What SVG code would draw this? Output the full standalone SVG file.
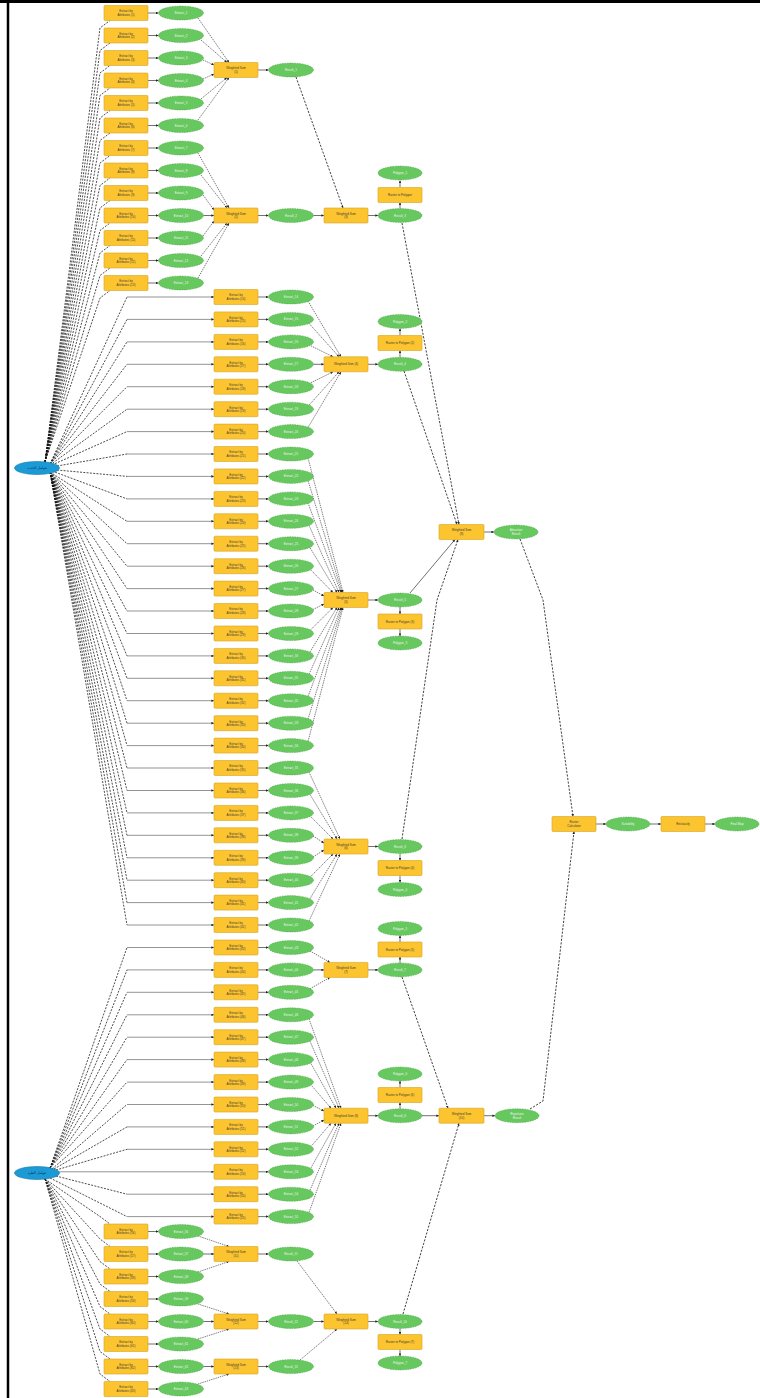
<svg xmlns="http://www.w3.org/2000/svg" width="760" height="1398" viewBox="0 0 760 1398">
<defs>
<marker id="ar" viewBox="0 0 6 6" refX="6" refY="3" markerWidth="2.6" markerHeight="2.6" markerUnits="userSpaceOnUse" orient="auto"><path d="M0 0L6 3L0 6z" fill="#222"/></marker>
<style>
.t{fill:#fcc530;stroke:#d3a21e;stroke-width:.6}
.d{fill:#66c85e;stroke:#4a9c45;stroke-width:.5;stroke-dasharray:1.5 1}
.b{fill:#1c9ad6;stroke:#1377a8;stroke-width:.6}
.tx{font-family:"Liberation Sans",Arial,sans-serif;font-size:3px;fill:#3a3a3a;text-anchor:middle}
.ex{font-family:"Liberation Sans",Arial,sans-serif;font-size:3px;fill:#eef6ee;text-anchor:middle}
.bx{font-family:"DejaVu Sans","Liberation Sans",sans-serif;font-size:3.5px;fill:#0b2a4a;text-anchor:middle}
.c{fill:none;stroke:#111;stroke-width:.75;stroke-dasharray:2 1.3}
.c2{fill:none;stroke:#222;stroke-width:.6;stroke-dasharray:1.4 .9;marker-end:url(#ar)}
.h{fill:none;stroke:#666;stroke-width:.7;marker-end:url(#ar)}
.s{fill:none;stroke:#333;stroke-width:.7;marker-end:url(#ar)}
.L{fill:none;stroke:#111;stroke-width:.8;stroke-dasharray:2.2 1.4;marker-end:url(#ar)}
</style>
</defs>
<rect width="760" height="1398" fill="#fff"/>
<g id="frame"><line x1="8" y1="0" x2="8" y2="1398" stroke="#000" stroke-width="2.5"/><line x1="0" y1="1.5" x2="760" y2="1.5" stroke="#000" stroke-width="3"/></g>
<g id="connectors">
<!-- top blue to top group -->
<path class="c" d="M45 462L100 28L110 20.5"/>
<path class="c" d="M45 462L100 50.5L110 43"/>
<path class="c" d="M45 462L100 73L110 65.5"/>
<path class="c" d="M45 462L100 95.5L110 88"/>
<path class="c" d="M45 462L100 118L110 110.5"/>
<path class="c" d="M45 462L100 140.5L110 133"/>
<path class="c" d="M45 462L100 163L110 155.5"/>
<path class="c" d="M45 462L100 185.5L110 178"/>
<path class="c" d="M45 462L100 208L110 200.5"/>
<path class="c" d="M45 462L100 230.5L110 223"/>
<path class="c" d="M45 462L100 253L110 245.5"/>
<path class="c" d="M45 462L100 275.5L110 268"/>
<path class="c" d="M45 462L100 298L110 290.5"/>
<!-- top blue to middle rows 0-28 -->
<path class="c" d="M50 464L127 297"/><path class="h" d="M127 297H214"/>
<path class="c" d="M50 464L127 319.4"/><path class="h" d="M127 319.4H214"/>
<path class="c" d="M50 464L127 341.9"/><path class="h" d="M127 341.9H214"/>
<path class="c" d="M50 464L127 364.3"/><path class="h" d="M127 364.3H214"/>
<path class="c" d="M50 464L127 386.7"/><path class="h" d="M127 386.7H214"/>
<path class="c" d="M50 465L127 409.2"/><path class="h" d="M127 409.2H214"/>
<path class="c" d="M52 465L127 431.6"/><path class="h" d="M127 431.6H214"/>
<path class="c" d="M57 466L127 454"/><path class="h" d="M127 454H214"/>
<path class="c" d="M57 470L127 476.4"/><path class="h" d="M127 476.4H214"/>
<path class="c" d="M52 471L127 498.9"/><path class="h" d="M127 498.9H214"/>
<path class="c" d="M50 472L127 521.3"/><path class="h" d="M127 521.3H214"/>
<path class="c" d="M50 472L127 543.7"/><path class="h" d="M127 543.7H214"/>
<path class="c" d="M50 472L127 566.2"/><path class="h" d="M127 566.2H214"/>
<path class="c" d="M50 472L127 588.6"/><path class="h" d="M127 588.6H214"/>
<path class="c" d="M50 472L127 611"/><path class="h" d="M127 611H214"/>
<path class="c" d="M50 472L127 633.5"/><path class="h" d="M127 633.5H214"/>
<path class="c" d="M50 472L127 655.9"/><path class="h" d="M127 655.9H214"/>
<path class="c" d="M50 472L127 678.3"/><path class="h" d="M127 678.3H214"/>
<path class="c" d="M50 472L127 700.7"/><path class="h" d="M127 700.7H214"/>
<path class="c" d="M50 472L127 723.2"/><path class="h" d="M127 723.2H214"/>
<path class="c" d="M50 472L127 745.6"/><path class="h" d="M127 745.6H214"/>
<path class="c" d="M50 472L127 768"/><path class="h" d="M127 768H214"/>
<path class="c" d="M50 472L127 790.5"/><path class="h" d="M127 790.5H214"/>
<path class="c" d="M50 472L127 812.9"/><path class="h" d="M127 812.9H214"/>
<path class="c" d="M50 472L127 835.3"/><path class="h" d="M127 835.3H214"/>
<path class="c" d="M50 472L127 857.8"/><path class="h" d="M127 857.8H214"/>
<path class="c" d="M50 472L127 880.2"/><path class="h" d="M127 880.2H214"/>
<path class="c" d="M50 472L127 902.6"/><path class="h" d="M127 902.6H214"/>
<path class="c" d="M50 472L127 925"/><path class="h" d="M127 925H214"/>
<!-- bottom blue to middle rows 29-41 -->
<path class="c" d="M50 1168L127 947.5"/><path class="h" d="M127 947.5H214"/>
<path class="c" d="M50 1168L127 969.9"/><path class="h" d="M127 969.9H214"/>
<path class="c" d="M50 1168L127 992.3"/><path class="h" d="M127 992.3H214"/>
<path class="c" d="M50 1168L127 1014.8"/><path class="h" d="M127 1014.8H214"/>
<path class="c" d="M50 1168L127 1037.2"/><path class="h" d="M127 1037.2H214"/>
<path class="c" d="M50 1168L127 1059.6"/><path class="h" d="M127 1059.6H214"/>
<path class="c" d="M50 1168L127 1082.1"/><path class="h" d="M127 1082.1H214"/>
<path class="c" d="M52 1169L127 1104.5"/><path class="h" d="M127 1104.5H214"/>
<path class="c" d="M54 1169L127 1126.9"/><path class="h" d="M127 1126.9H214"/>
<path class="c" d="M56 1170L127 1149.3"/><path class="h" d="M127 1149.3H214"/>
<path class="h" d="M59 1171.8H214"/>
<path class="c" d="M56 1176L127 1194.2"/><path class="h" d="M127 1194.2H214"/>
<path class="c" d="M50 1178L127 1216.6"/><path class="h" d="M127 1216.6H214"/>
<!-- bottom blue to bottom group -->
<path class="c" d="M45 1179L100 1216.5L110 1224"/>
<path class="c" d="M45 1179L100 1239L110 1246.5"/>
<path class="c" d="M45 1179L100 1261.5L110 1269"/>
<path class="c" d="M45 1179L100 1284L110 1291.5"/>
<path class="c" d="M45 1179L100 1306.5L110 1314"/>
<path class="c" d="M45 1179L100 1329L110 1336.5"/>
<path class="c" d="M45 1179L100 1351.5L110 1359"/>
<path class="c" d="M45 1179L100 1374L110 1381.5"/>
<!-- top group rect->ellipse -->
<path class="s" d="M148 13H158.5"/><path class="s" d="M148 35.5H158.5"/><path class="s" d="M148 58H158.5"/><path class="s" d="M148 80.5H158.5"/><path class="s" d="M148 103H158.5"/><path class="s" d="M148 125.5H158.5"/><path class="s" d="M148 148H158.5"/><path class="s" d="M148 170.5H158.5"/><path class="s" d="M148 193H158.5"/><path class="s" d="M148 215.5H158.5"/><path class="s" d="M148 238H158.5"/><path class="s" d="M148 260.5H158.5"/><path class="s" d="M148 283H158.5"/>
<!-- top group ellipse->merge -->
<path class="c2" d="M198 18L229 62.5"/><path class="c2" d="M201 40L227 62.5"/><path class="c2" d="M203 60L214 65"/><path class="c2" d="M203 79L214 74"/><path class="c2" d="M201 99L227 77.5"/><path class="c2" d="M198 120L229 77.5"/>
<path class="c2" d="M198 153L229 208"/><path class="c2" d="M201 175L227 208"/><path class="c2" d="M203 195L214 210"/><path class="s" d="M203.5 215.5H214"/><path class="c2" d="M203 236L214 221"/><path class="c2" d="M201 256L227 223"/><path class="c2" d="M198 278L229 223"/>
<path class="s" d="M258 70H268.5"/><path class="s" d="M258 215.5H268.5"/>
<path class="L" d="M296 77L343 208"/><path class="s" d="M313.5 215.5H324"/>
<path class="s" d="M368 215.5H378"/><path class="s" d="M400 208.5V202.5"/><path class="s" d="M400 187.5V180.5"/>
<!-- middle rect->ellipse -->
<path class="s" d="M258 297H268.5"/><path class="s" d="M258 319.4H268.5"/><path class="s" d="M258 341.9H268.5"/><path class="s" d="M258 364.3H268.5"/><path class="s" d="M258 386.7H268.5"/><path class="s" d="M258 409.2H268.5"/><path class="s" d="M258 431.6H268.5"/><path class="s" d="M258 454H268.5"/><path class="s" d="M258 476.4H268.5"/><path class="s" d="M258 498.9H268.5"/><path class="s" d="M258 521.3H268.5"/><path class="s" d="M258 543.7H268.5"/><path class="s" d="M258 566.2H268.5"/><path class="s" d="M258 588.6H268.5"/><path class="s" d="M258 611H268.5"/><path class="s" d="M258 633.5H268.5"/><path class="s" d="M258 655.9H268.5"/><path class="s" d="M258 678.3H268.5"/><path class="s" d="M258 700.7H268.5"/><path class="s" d="M258 723.2H268.5"/><path class="s" d="M258 745.6H268.5"/><path class="s" d="M258 768H268.5"/><path class="s" d="M258 790.5H268.5"/><path class="s" d="M258 812.9H268.5"/><path class="s" d="M258 835.3H268.5"/><path class="s" d="M258 857.8H268.5"/><path class="s" d="M258 880.2H268.5"/><path class="s" d="M258 902.6H268.5"/><path class="s" d="M258 925H268.5"/><path class="s" d="M258 947.5H268.5"/><path class="s" d="M258 969.9H268.5"/><path class="s" d="M258 992.3H268.5"/><path class="s" d="M258 1014.8H268.5"/><path class="s" d="M258 1037.2H268.5"/><path class="s" d="M258 1059.6H268.5"/><path class="s" d="M258 1082.1H268.5"/><path class="s" d="M258 1104.5H268.5"/><path class="s" d="M258 1126.9H268.5"/><path class="s" d="M258 1149.3H268.5"/><path class="s" d="M258 1171.8H268.5"/><path class="s" d="M258 1194.2H268.5"/><path class="s" d="M258 1216.6H268.5"/>
<!-- middle ellipse->tools -->
<path class="c2" d="M308 301L341 356.8"/><path class="c2" d="M309 323.4L339 356.8"/><path class="c2" d="M311 345.9L333 356.8"/><path class="s" d="M313.5 364.3H324"/><path class="c2" d="M311 382.7L333 371.8"/><path class="c2" d="M309 405.2L339 371.8"/><path class="c2" d="M308 427.6L341 371.8"/>
<path class="c2" d="M308 458L343 592.5"/><path class="c2" d="M308 480.4L342 592.5"/><path class="c2" d="M308 502.9L341 592.5"/><path class="c2" d="M309 525.3L339 592.5"/><path class="c2" d="M310 547.7L337 592.5"/><path class="c2" d="M311 570.2L333 592.5"/><path class="c2" d="M313 590L324 596"/><path class="c2" d="M313 609.5L324 604"/><path class="c2" d="M311 629.5L333 607.5"/><path class="c2" d="M310 651.9L337 607.5"/><path class="c2" d="M309 674.3L339 607.5"/><path class="c2" d="M308 696.7L341 607.5"/><path class="c2" d="M308 719.2L342 607.5"/><path class="c2" d="M308 741.6L343 607.5"/>
<path class="c2" d="M309 772L340 839"/><path class="c2" d="M310 794.5L337 839"/><path class="c2" d="M311 816.9L333 839"/><path class="c2" d="M313 836L324 843"/><path class="c2" d="M313 857L324 850"/><path class="c2" d="M311 876.2L333 854"/><path class="c2" d="M310 898.6L337 854"/><path class="c2" d="M309 921L340 854"/>
<path class="c2" d="M310 951L330 962.4"/><path class="s" d="M313.5 969.9H324"/><path class="c2" d="M310 988.8L330 977.4"/>
<path class="c2" d="M309 1018.8L341 1108.2"/><path class="c2" d="M310 1041.2L339 1108.2"/><path class="c2" d="M311 1063.6L336 1108.2"/><path class="c2" d="M312 1086.1L331 1108.2"/><path class="c2" d="M313 1105.5L324 1111"/><path class="c2" d="M313 1126L324 1120"/><path class="c2" d="M312 1145.3L331 1123.2"/><path class="c2" d="M311 1167.8L336 1123.2"/><path class="c2" d="M310 1190.2L339 1123.2"/><path class="c2" d="M309 1212.6L341 1123.2"/>
<!-- middle tool outputs -->
<path class="s" d="M368 364.3H378"/><path class="s" d="M400 357.3V350.5"/><path class="s" d="M400 335.5V328.5"/>
<path class="s" d="M368 600H378"/><path class="s" d="M400 607V614"/><path class="s" d="M400 629V636"/>
<path class="s" d="M368 846.5H378"/><path class="s" d="M400 853.5V860.5"/><path class="s" d="M400 875.5V882.5"/>
<path class="s" d="M368 969.9H378"/><path class="s" d="M400 963V957"/><path class="s" d="M400 942V935.5"/>
<path class="s" d="M368 1115.7H378"/><path class="s" d="M400 1108.7V1102.5"/><path class="s" d="M400 1087.5V1081"/>
<!-- bottom group -->
<path class="s" d="M148 1231.5H158.5"/><path class="s" d="M148 1254H158.5"/><path class="s" d="M148 1276.5H158.5"/><path class="s" d="M148 1299H158.5"/><path class="s" d="M148 1321.5H158.5"/><path class="s" d="M148 1344H158.5"/><path class="s" d="M148 1366.5H158.5"/><path class="s" d="M148 1389H158.5"/>
<path class="c2" d="M198 1236L229 1246.5"/><path class="s" d="M203.5 1254H214"/><path class="c2" d="M198 1272L229 1261.5"/>
<path class="c2" d="M198 1304L229 1314"/><path class="s" d="M203.5 1321.5H214"/><path class="c2" d="M198 1339L229 1329"/>
<path class="s" d="M203.5 1366.5H214"/><path class="c2" d="M198 1384L229 1374"/>
<path class="s" d="M258 1254H268.5"/><path class="s" d="M258 1321.5H268.5"/><path class="s" d="M258 1366.5H268.5"/>
<path class="c2" d="M297 1261L337 1314"/><path class="s" d="M313.5 1321.5H324"/><path class="c2" d="M300 1360L337 1329"/>
<path class="s" d="M368 1321.5H378"/><path class="s" d="M400 1328.5V1334.5"/><path class="s" d="M400 1349.5V1356"/>
<!-- long links -->
<path class="L" d="M402 223L459 524.5"/>
<path class="L" d="M404 371L457 524.5"/>
<path class="s" d="M410 593L455 539.5"/>
<path class="L" d="M402 839L437 600L458 539.5"/>
<path class="s" d="M484 532H494"/>
<path class="L" d="M520 539L543 600L573 816.5"/>
<path class="L" d="M402 977L448 1108.2"/>
<path class="s" d="M422 1115.7H439"/>
<path class="L" d="M403 1314L459 1123.2"/>
<path class="s" d="M484 1115.7H495"/>
<path class="L" d="M530 1109L543 1101L574 831.5"/>
<path class="s" d="M596 824H606"/><path class="s" d="M650 824H661"/><path class="s" d="M705 824H715"/>
</g>
<g id="nodes">
<g id="blue1"><ellipse class="b" cx="37" cy="468" rx="22.5" ry="6.5"/><text class="bx" x="37" y="469.2">عوامل الجذب</text></g>
<g id="blue2"><ellipse class="b" cx="37" cy="1173" rx="22.5" ry="6.5"/><text class="bx" x="37" y="1174.2">عوامل الطرد</text></g>
<!-- top group -->
<g id="a0"><rect class="t" x="104" y="5.5" width="44" height="15" rx="1"/><text class="tx" x="126" y="12.4">Extract by<tspan x="126" dy="3.4">Attributes (1)</tspan></text></g>
<g id="a1"><rect class="t" x="104" y="28" width="44" height="15" rx="1"/><text class="tx" x="126" y="34.9">Extract by<tspan x="126" dy="3.4">Attributes (2)</tspan></text></g>
<g id="a2"><rect class="t" x="104" y="50.5" width="44" height="15" rx="1"/><text class="tx" x="126" y="57.4">Extract by<tspan x="126" dy="3.4">Attributes (3)</tspan></text></g>
<g id="a3"><rect class="t" x="104" y="73" width="44" height="15" rx="1"/><text class="tx" x="126" y="79.9">Extract by<tspan x="126" dy="3.4">Attributes (4)</tspan></text></g>
<g id="a4"><rect class="t" x="104" y="95.5" width="44" height="15" rx="1"/><text class="tx" x="126" y="102.4">Extract by<tspan x="126" dy="3.4">Attributes (5)</tspan></text></g>
<g id="a5"><rect class="t" x="104" y="118" width="44" height="15" rx="1"/><text class="tx" x="126" y="124.9">Extract by<tspan x="126" dy="3.4">Attributes (6)</tspan></text></g>
<g id="a6"><rect class="t" x="104" y="140.5" width="44" height="15" rx="1"/><text class="tx" x="126" y="147.4">Extract by<tspan x="126" dy="3.4">Attributes (7)</tspan></text></g>
<g id="a7"><rect class="t" x="104" y="163" width="44" height="15" rx="1"/><text class="tx" x="126" y="169.9">Extract by<tspan x="126" dy="3.4">Attributes (8)</tspan></text></g>
<g id="a8"><rect class="t" x="104" y="185.5" width="44" height="15" rx="1"/><text class="tx" x="126" y="192.4">Extract by<tspan x="126" dy="3.4">Attributes (9)</tspan></text></g>
<g id="a9"><rect class="t" x="104" y="208" width="44" height="15" rx="1"/><text class="tx" x="126" y="214.9">Extract by<tspan x="126" dy="3.4">Attributes (10)</tspan></text></g>
<g id="a10"><rect class="t" x="104" y="230.5" width="44" height="15" rx="1"/><text class="tx" x="126" y="237.4">Extract by<tspan x="126" dy="3.4">Attributes (11)</tspan></text></g>
<g id="a11"><rect class="t" x="104" y="253" width="44" height="15" rx="1"/><text class="tx" x="126" y="259.9">Extract by<tspan x="126" dy="3.4">Attributes (12)</tspan></text></g>
<g id="a12"><rect class="t" x="104" y="275.5" width="44" height="15" rx="1"/><text class="tx" x="126" y="282.4">Extract by<tspan x="126" dy="3.4">Attributes (13)</tspan></text></g>
<g id="e0"><ellipse class="d" cx="181" cy="13" rx="22.5" ry="7"/><text class="ex" x="181" y="14">Extract_1</text></g>
<g id="e1"><ellipse class="d" cx="181" cy="35.5" rx="22.5" ry="7"/><text class="ex" x="181" y="36.5">Extract_2</text></g>
<g id="e2"><ellipse class="d" cx="181" cy="58" rx="22.5" ry="7"/><text class="ex" x="181" y="59">Extract_3</text></g>
<g id="e3"><ellipse class="d" cx="181" cy="80.5" rx="22.5" ry="7"/><text class="ex" x="181" y="81.5">Extract_4</text></g>
<g id="e4"><ellipse class="d" cx="181" cy="103" rx="22.5" ry="7"/><text class="ex" x="181" y="104">Extract_5</text></g>
<g id="e5"><ellipse class="d" cx="181" cy="125.5" rx="22.5" ry="7"/><text class="ex" x="181" y="126.5">Extract_6</text></g>
<g id="e6"><ellipse class="d" cx="181" cy="148" rx="22.5" ry="7"/><text class="ex" x="181" y="149">Extract_7</text></g>
<g id="e7"><ellipse class="d" cx="181" cy="170.5" rx="22.5" ry="7"/><text class="ex" x="181" y="171.5">Extract_8</text></g>
<g id="e8"><ellipse class="d" cx="181" cy="193" rx="22.5" ry="7"/><text class="ex" x="181" y="194">Extract_9</text></g>
<g id="e9"><ellipse class="d" cx="181" cy="215.5" rx="22.5" ry="7"/><text class="ex" x="181" y="216.5">Extract_10</text></g>
<g id="e10"><ellipse class="d" cx="181" cy="238" rx="22.5" ry="7"/><text class="ex" x="181" y="239">Extract_11</text></g>
<g id="e11"><ellipse class="d" cx="181" cy="260.5" rx="22.5" ry="7"/><text class="ex" x="181" y="261.5">Extract_12</text></g>
<g id="e12"><ellipse class="d" cx="181" cy="283" rx="22.5" ry="7"/><text class="ex" x="181" y="284">Extract_13</text></g>
<g id="tm1"><rect class="t" x="214" y="62.5" width="44" height="15" rx="1"/><text class="tx" x="236" y="69.4">Weighted Sum<tspan x="236" dy="3.4">(1)</tspan></text></g>
<g id="om1"><ellipse class="d" cx="291" cy="70" rx="22.5" ry="7"/><text class="ex" x="291" y="71">Result_1</text></g>
<g id="tm2"><rect class="t" x="214" y="208" width="44" height="15" rx="1"/><text class="tx" x="236" y="214.9">Weighted Sum<tspan x="236" dy="3.4">(2)</tspan></text></g>
<g id="om2"><ellipse class="d" cx="291" cy="215.5" rx="22.5" ry="7"/><text class="ex" x="291" y="216.5">Result_2</text></g>
<g id="tm3"><rect class="t" x="324" y="208" width="44" height="15" rx="1"/><text class="tx" x="346" y="214.9">Weighted Sum<tspan x="346" dy="3.4">(3)</tspan></text></g>
<g id="om3"><ellipse class="d" cx="400" cy="215.5" rx="22" ry="7"/><text class="ex" x="400" y="216.5">Result_3</text></g>
<g id="rm3"><rect class="t" x="378" y="187.5" width="44" height="15" rx="1"/><text class="tx" x="400" y="196">Raster to Polygon</text></g>
<g id="pm3"><ellipse class="d" cx="400" cy="173" rx="22" ry="7"/><text class="ex" x="400" y="174">Polygon_1</text></g>
<!-- middle group rects -->
<g id="m0"><rect class="t" x="214" y="289.5" width="44" height="15" rx="1"/><text class="tx" x="236" y="296.4">Extract by<tspan x="236" dy="3.4">Attributes (14)</tspan></text></g>
<g id="m1"><rect class="t" x="214" y="311.9" width="44" height="15" rx="1"/><text class="tx" x="236" y="318.8">Extract by<tspan x="236" dy="3.4">Attributes (15)</tspan></text></g>
<g id="m2"><rect class="t" x="214" y="334.4" width="44" height="15" rx="1"/><text class="tx" x="236" y="341.3">Extract by<tspan x="236" dy="3.4">Attributes (16)</tspan></text></g>
<g id="m3"><rect class="t" x="214" y="356.8" width="44" height="15" rx="1"/><text class="tx" x="236" y="363.7">Extract by<tspan x="236" dy="3.4">Attributes (17)</tspan></text></g>
<g id="m4"><rect class="t" x="214" y="379.2" width="44" height="15" rx="1"/><text class="tx" x="236" y="386.1">Extract by<tspan x="236" dy="3.4">Attributes (18)</tspan></text></g>
<g id="m5"><rect class="t" x="214" y="401.7" width="44" height="15" rx="1"/><text class="tx" x="236" y="408.6">Extract by<tspan x="236" dy="3.4">Attributes (19)</tspan></text></g>
<g id="m6"><rect class="t" x="214" y="424.1" width="44" height="15" rx="1"/><text class="tx" x="236" y="431">Extract by<tspan x="236" dy="3.4">Attributes (20)</tspan></text></g>
<g id="m7"><rect class="t" x="214" y="446.5" width="44" height="15" rx="1"/><text class="tx" x="236" y="453.4">Extract by<tspan x="236" dy="3.4">Attributes (21)</tspan></text></g>
<g id="m8"><rect class="t" x="214" y="468.9" width="44" height="15" rx="1"/><text class="tx" x="236" y="475.8">Extract by<tspan x="236" dy="3.4">Attributes (22)</tspan></text></g>
<g id="m9"><rect class="t" x="214" y="491.4" width="44" height="15" rx="1"/><text class="tx" x="236" y="498.3">Extract by<tspan x="236" dy="3.4">Attributes (23)</tspan></text></g>
<g id="m10"><rect class="t" x="214" y="513.8" width="44" height="15" rx="1"/><text class="tx" x="236" y="520.7">Extract by<tspan x="236" dy="3.4">Attributes (24)</tspan></text></g>
<g id="m11"><rect class="t" x="214" y="536.2" width="44" height="15" rx="1"/><text class="tx" x="236" y="543.1">Extract by<tspan x="236" dy="3.4">Attributes (25)</tspan></text></g>
<g id="m12"><rect class="t" x="214" y="558.7" width="44" height="15" rx="1"/><text class="tx" x="236" y="565.6">Extract by<tspan x="236" dy="3.4">Attributes (26)</tspan></text></g>
<g id="m13"><rect class="t" x="214" y="581.1" width="44" height="15" rx="1"/><text class="tx" x="236" y="588">Extract by<tspan x="236" dy="3.4">Attributes (27)</tspan></text></g>
<g id="m14"><rect class="t" x="214" y="603.5" width="44" height="15" rx="1"/><text class="tx" x="236" y="610.4">Extract by<tspan x="236" dy="3.4">Attributes (28)</tspan></text></g>
<g id="m15"><rect class="t" x="214" y="626" width="44" height="15" rx="1"/><text class="tx" x="236" y="632.9">Extract by<tspan x="236" dy="3.4">Attributes (29)</tspan></text></g>
<g id="m16"><rect class="t" x="214" y="648.4" width="44" height="15" rx="1"/><text class="tx" x="236" y="655.3">Extract by<tspan x="236" dy="3.4">Attributes (30)</tspan></text></g>
<g id="m17"><rect class="t" x="214" y="670.8" width="44" height="15" rx="1"/><text class="tx" x="236" y="677.7">Extract by<tspan x="236" dy="3.4">Attributes (31)</tspan></text></g>
<g id="m18"><rect class="t" x="214" y="693.2" width="44" height="15" rx="1"/><text class="tx" x="236" y="700.1">Extract by<tspan x="236" dy="3.4">Attributes (32)</tspan></text></g>
<g id="m19"><rect class="t" x="214" y="715.7" width="44" height="15" rx="1"/><text class="tx" x="236" y="722.6">Extract by<tspan x="236" dy="3.4">Attributes (33)</tspan></text></g>
<g id="m20"><rect class="t" x="214" y="738.1" width="44" height="15" rx="1"/><text class="tx" x="236" y="745">Extract by<tspan x="236" dy="3.4">Attributes (34)</tspan></text></g>
<g id="m21"><rect class="t" x="214" y="760.5" width="44" height="15" rx="1"/><text class="tx" x="236" y="767.4">Extract by<tspan x="236" dy="3.4">Attributes (35)</tspan></text></g>
<g id="m22"><rect class="t" x="214" y="783" width="44" height="15" rx="1"/><text class="tx" x="236" y="789.9">Extract by<tspan x="236" dy="3.4">Attributes (36)</tspan></text></g>
<g id="m23"><rect class="t" x="214" y="805.4" width="44" height="15" rx="1"/><text class="tx" x="236" y="812.3">Extract by<tspan x="236" dy="3.4">Attributes (37)</tspan></text></g>
<g id="m24"><rect class="t" x="214" y="827.8" width="44" height="15" rx="1"/><text class="tx" x="236" y="834.7">Extract by<tspan x="236" dy="3.4">Attributes (38)</tspan></text></g>
<g id="m25"><rect class="t" x="214" y="850.3" width="44" height="15" rx="1"/><text class="tx" x="236" y="857.2">Extract by<tspan x="236" dy="3.4">Attributes (39)</tspan></text></g>
<g id="m26"><rect class="t" x="214" y="872.7" width="44" height="15" rx="1"/><text class="tx" x="236" y="879.6">Extract by<tspan x="236" dy="3.4">Attributes (40)</tspan></text></g>
<g id="m27"><rect class="t" x="214" y="895.1" width="44" height="15" rx="1"/><text class="tx" x="236" y="902">Extract by<tspan x="236" dy="3.4">Attributes (41)</tspan></text></g>
<g id="m28"><rect class="t" x="214" y="917.5" width="44" height="15" rx="1"/><text class="tx" x="236" y="924.4">Extract by<tspan x="236" dy="3.4">Attributes (42)</tspan></text></g>
<g id="m29"><rect class="t" x="214" y="940" width="44" height="15" rx="1"/><text class="tx" x="236" y="946.9">Extract by<tspan x="236" dy="3.4">Attributes (43)</tspan></text></g>
<g id="m30"><rect class="t" x="214" y="962.4" width="44" height="15" rx="1"/><text class="tx" x="236" y="969.3">Extract by<tspan x="236" dy="3.4">Attributes (44)</tspan></text></g>
<g id="m31"><rect class="t" x="214" y="984.8" width="44" height="15" rx="1"/><text class="tx" x="236" y="991.7">Extract by<tspan x="236" dy="3.4">Attributes (45)</tspan></text></g>
<g id="m32"><rect class="t" x="214" y="1007.3" width="44" height="15" rx="1"/><text class="tx" x="236" y="1014.2">Extract by<tspan x="236" dy="3.4">Attributes (46)</tspan></text></g>
<g id="m33"><rect class="t" x="214" y="1029.7" width="44" height="15" rx="1"/><text class="tx" x="236" y="1036.6">Extract by<tspan x="236" dy="3.4">Attributes (47)</tspan></text></g>
<g id="m34"><rect class="t" x="214" y="1052.1" width="44" height="15" rx="1"/><text class="tx" x="236" y="1059">Extract by<tspan x="236" dy="3.4">Attributes (48)</tspan></text></g>
<g id="m35"><rect class="t" x="214" y="1074.6" width="44" height="15" rx="1"/><text class="tx" x="236" y="1081.5">Extract by<tspan x="236" dy="3.4">Attributes (49)</tspan></text></g>
<g id="m36"><rect class="t" x="214" y="1097" width="44" height="15" rx="1"/><text class="tx" x="236" y="1103.9">Extract by<tspan x="236" dy="3.4">Attributes (50)</tspan></text></g>
<g id="m37"><rect class="t" x="214" y="1119.4" width="44" height="15" rx="1"/><text class="tx" x="236" y="1126.3">Extract by<tspan x="236" dy="3.4">Attributes (51)</tspan></text></g>
<g id="m38"><rect class="t" x="214" y="1141.8" width="44" height="15" rx="1"/><text class="tx" x="236" y="1148.7">Extract by<tspan x="236" dy="3.4">Attributes (52)</tspan></text></g>
<g id="m39"><rect class="t" x="214" y="1164.3" width="44" height="15" rx="1"/><text class="tx" x="236" y="1171.2">Extract by<tspan x="236" dy="3.4">Attributes (53)</tspan></text></g>
<g id="m40"><rect class="t" x="214" y="1186.7" width="44" height="15" rx="1"/><text class="tx" x="236" y="1193.6">Extract by<tspan x="236" dy="3.4">Attributes (54)</tspan></text></g>
<g id="m41"><rect class="t" x="214" y="1209.1" width="44" height="15" rx="1"/><text class="tx" x="236" y="1216">Extract by<tspan x="236" dy="3.4">Attributes (55)</tspan></text></g>
<!-- middle group ellipses -->
<g id="n0"><ellipse class="d" cx="291" cy="297" rx="22.5" ry="7"/><text class="ex" x="291" y="298">Extract_14</text></g>
<g id="n1"><ellipse class="d" cx="291" cy="319.4" rx="22.5" ry="7"/><text class="ex" x="291" y="320.4">Extract_15</text></g>
<g id="n2"><ellipse class="d" cx="291" cy="341.9" rx="22.5" ry="7"/><text class="ex" x="291" y="342.9">Extract_16</text></g>
<g id="n3"><ellipse class="d" cx="291" cy="364.3" rx="22.5" ry="7"/><text class="ex" x="291" y="365.3">Extract_17</text></g>
<g id="n4"><ellipse class="d" cx="291" cy="386.7" rx="22.5" ry="7"/><text class="ex" x="291" y="387.7">Extract_18</text></g>
<g id="n5"><ellipse class="d" cx="291" cy="409.2" rx="22.5" ry="7"/><text class="ex" x="291" y="410.2">Extract_19</text></g>
<g id="n6"><ellipse class="d" cx="291" cy="431.6" rx="22.5" ry="7"/><text class="ex" x="291" y="432.6">Extract_20</text></g>
<g id="n7"><ellipse class="d" cx="291" cy="454" rx="22.5" ry="7"/><text class="ex" x="291" y="455">Extract_21</text></g>
<g id="n8"><ellipse class="d" cx="291" cy="476.4" rx="22.5" ry="7"/><text class="ex" x="291" y="477.4">Extract_22</text></g>
<g id="n9"><ellipse class="d" cx="291" cy="498.9" rx="22.5" ry="7"/><text class="ex" x="291" y="499.9">Extract_23</text></g>
<g id="n10"><ellipse class="d" cx="291" cy="521.3" rx="22.5" ry="7"/><text class="ex" x="291" y="522.3">Extract_24</text></g>
<g id="n11"><ellipse class="d" cx="291" cy="543.7" rx="22.5" ry="7"/><text class="ex" x="291" y="544.7">Extract_25</text></g>
<g id="n12"><ellipse class="d" cx="291" cy="566.2" rx="22.5" ry="7"/><text class="ex" x="291" y="567.2">Extract_26</text></g>
<g id="n13"><ellipse class="d" cx="291" cy="588.6" rx="22.5" ry="7"/><text class="ex" x="291" y="589.6">Extract_27</text></g>
<g id="n14"><ellipse class="d" cx="291" cy="611" rx="22.5" ry="7"/><text class="ex" x="291" y="612">Extract_28</text></g>
<g id="n15"><ellipse class="d" cx="291" cy="633.5" rx="22.5" ry="7"/><text class="ex" x="291" y="634.5">Extract_29</text></g>
<g id="n16"><ellipse class="d" cx="291" cy="655.9" rx="22.5" ry="7"/><text class="ex" x="291" y="656.9">Extract_30</text></g>
<g id="n17"><ellipse class="d" cx="291" cy="678.3" rx="22.5" ry="7"/><text class="ex" x="291" y="679.3">Extract_31</text></g>
<g id="n18"><ellipse class="d" cx="291" cy="700.7" rx="22.5" ry="7"/><text class="ex" x="291" y="701.7">Extract_32</text></g>
<g id="n19"><ellipse class="d" cx="291" cy="723.2" rx="22.5" ry="7"/><text class="ex" x="291" y="724.2">Extract_33</text></g>
<g id="n20"><ellipse class="d" cx="291" cy="745.6" rx="22.5" ry="7"/><text class="ex" x="291" y="746.6">Extract_34</text></g>
<g id="n21"><ellipse class="d" cx="291" cy="768" rx="22.5" ry="7"/><text class="ex" x="291" y="769">Extract_35</text></g>
<g id="n22"><ellipse class="d" cx="291" cy="790.5" rx="22.5" ry="7"/><text class="ex" x="291" y="791.5">Extract_36</text></g>
<g id="n23"><ellipse class="d" cx="291" cy="812.9" rx="22.5" ry="7"/><text class="ex" x="291" y="813.9">Extract_37</text></g>
<g id="n24"><ellipse class="d" cx="291" cy="835.3" rx="22.5" ry="7"/><text class="ex" x="291" y="836.3">Extract_38</text></g>
<g id="n25"><ellipse class="d" cx="291" cy="857.8" rx="22.5" ry="7"/><text class="ex" x="291" y="858.8">Extract_39</text></g>
<g id="n26"><ellipse class="d" cx="291" cy="880.2" rx="22.5" ry="7"/><text class="ex" x="291" y="881.2">Extract_40</text></g>
<g id="n27"><ellipse class="d" cx="291" cy="902.6" rx="22.5" ry="7"/><text class="ex" x="291" y="903.6">Extract_41</text></g>
<g id="n28"><ellipse class="d" cx="291" cy="925" rx="22.5" ry="7"/><text class="ex" x="291" y="926">Extract_42</text></g>
<g id="n29"><ellipse class="d" cx="291" cy="947.5" rx="22.5" ry="7"/><text class="ex" x="291" y="948.5">Extract_43</text></g>
<g id="n30"><ellipse class="d" cx="291" cy="969.9" rx="22.5" ry="7"/><text class="ex" x="291" y="970.9">Extract_44</text></g>
<g id="n31"><ellipse class="d" cx="291" cy="992.3" rx="22.5" ry="7"/><text class="ex" x="291" y="993.3">Extract_45</text></g>
<g id="n32"><ellipse class="d" cx="291" cy="1014.8" rx="22.5" ry="7"/><text class="ex" x="291" y="1015.8">Extract_46</text></g>
<g id="n33"><ellipse class="d" cx="291" cy="1037.2" rx="22.5" ry="7"/><text class="ex" x="291" y="1038.2">Extract_47</text></g>
<g id="n34"><ellipse class="d" cx="291" cy="1059.6" rx="22.5" ry="7"/><text class="ex" x="291" y="1060.6">Extract_48</text></g>
<g id="n35"><ellipse class="d" cx="291" cy="1082.1" rx="22.5" ry="7"/><text class="ex" x="291" y="1083.1">Extract_49</text></g>
<g id="n36"><ellipse class="d" cx="291" cy="1104.5" rx="22.5" ry="7"/><text class="ex" x="291" y="1105.5">Extract_50</text></g>
<g id="n37"><ellipse class="d" cx="291" cy="1126.9" rx="22.5" ry="7"/><text class="ex" x="291" y="1127.9">Extract_51</text></g>
<g id="n38"><ellipse class="d" cx="291" cy="1149.3" rx="22.5" ry="7"/><text class="ex" x="291" y="1150.3">Extract_52</text></g>
<g id="n39"><ellipse class="d" cx="291" cy="1171.8" rx="22.5" ry="7"/><text class="ex" x="291" y="1172.8">Extract_53</text></g>
<g id="n40"><ellipse class="d" cx="291" cy="1194.2" rx="22.5" ry="7"/><text class="ex" x="291" y="1195.2">Extract_54</text></g>
<g id="n41"><ellipse class="d" cx="291" cy="1216.6" rx="22.5" ry="7"/><text class="ex" x="291" y="1217.6">Extract_55</text></g>
<!-- middle tools -->
<g id="t1"><rect class="t" x="324" y="356.8" width="44" height="15" rx="1"/><text class="tx" x="346" y="365.3">Weighted Sum (4)</text></g>
<g id="o1"><ellipse class="d" cx="400" cy="364.3" rx="22" ry="7"/><text class="ex" x="400" y="365.3">Result_4</text></g>
<g id="r1"><rect class="t" x="378" y="335.5" width="44" height="15" rx="1"/><text class="tx" x="400" y="344">Raster to Polygon (2)</text></g>
<g id="p1"><ellipse class="d" cx="400" cy="321.5" rx="22" ry="7"/><text class="ex" x="400" y="322.5">Polygon_2</text></g>
<g id="t2"><rect class="t" x="324" y="592.5" width="44" height="15" rx="1"/><text class="tx" x="346" y="599.4">Weighted Sum<tspan x="346" dy="3.4">(5)</tspan></text></g>
<g id="o2"><ellipse class="d" cx="400" cy="600" rx="22" ry="7"/><text class="ex" x="400" y="601">Result_5</text></g>
<g id="r2"><rect class="t" x="378" y="614" width="44" height="15" rx="1"/><text class="tx" x="400" y="622.5">Raster to Polygon (3)</text></g>
<g id="p2"><ellipse class="d" cx="400" cy="643" rx="22" ry="7"/><text class="ex" x="400" y="644">Polygon_3</text></g>
<g id="t3"><rect class="t" x="324" y="839" width="44" height="15" rx="1"/><text class="tx" x="346" y="845.9">Weighted Sum<tspan x="346" dy="3.4">(6)</tspan></text></g>
<g id="o3"><ellipse class="d" cx="400" cy="846.5" rx="22" ry="7"/><text class="ex" x="400" y="847.5">Result_6</text></g>
<g id="r3"><rect class="t" x="378" y="860.5" width="44" height="15" rx="1"/><text class="tx" x="400" y="869">Raster to Polygon (4)</text></g>
<g id="p3"><ellipse class="d" cx="400" cy="889.5" rx="22" ry="7"/><text class="ex" x="400" y="890.5">Polygon_4</text></g>
<g id="t4"><rect class="t" x="324" y="962.4" width="44" height="15" rx="1"/><text class="tx" x="346" y="969.3">Weighted Sum<tspan x="346" dy="3.4">(7)</tspan></text></g>
<g id="o4"><ellipse class="d" cx="400" cy="969.9" rx="22" ry="7"/><text class="ex" x="400" y="970.9">Result_7</text></g>
<g id="r4"><rect class="t" x="378" y="942" width="44" height="15" rx="1"/><text class="tx" x="400" y="950.5">Raster to Polygon (5)</text></g>
<g id="p4"><ellipse class="d" cx="400" cy="928.5" rx="22" ry="7"/><text class="ex" x="400" y="929.5">Polygon_5</text></g>
<g id="t5"><rect class="t" x="324" y="1108.2" width="44" height="15" rx="1"/><text class="tx" x="346" y="1116.7">Weighted Sum (8)</text></g>
<g id="o5"><ellipse class="d" cx="400" cy="1115.7" rx="22" ry="7"/><text class="ex" x="400" y="1116.7">Result_8</text></g>
<g id="r5"><rect class="t" x="378" y="1087.5" width="44" height="15" rx="1"/><text class="tx" x="400" y="1096">Raster to Polygon (6)</text></g>
<g id="p5"><ellipse class="d" cx="400" cy="1074" rx="22" ry="7"/><text class="ex" x="400" y="1075">Polygon_6</text></g>
<!-- combine tools -->
<g id="tu"><rect class="t" x="439" y="524.5" width="45" height="15" rx="1"/><text class="tx" x="461.5" y="531.4">Weighted Sum<tspan x="461.5" dy="3.4">(9)</tspan></text></g>
<g id="ou"><ellipse class="d" cx="516" cy="532" rx="22" ry="7"/><text class="ex" x="516" y="531.4">Attraction<tspan x="516" dy="3.4">Result</tspan></text></g>
<g id="tl"><rect class="t" x="439" y="1108.2" width="45" height="15" rx="1"/><text class="tx" x="461.5" y="1115.1">Weighted Sum<tspan x="461.5" dy="3.4">(10)</tspan></text></g>
<g id="ol"><ellipse class="d" cx="517" cy="1115.7" rx="22" ry="7"/><text class="ex" x="517" y="1115.1">Repulsion<tspan x="517" dy="3.4">Result</tspan></text></g>
<g id="tf"><rect class="t" x="552" y="816.5" width="44" height="15" rx="1"/><text class="tx" x="574" y="823.4">Raster<tspan x="574" dy="3.4">Calculator</tspan></text></g>
<g id="of"><ellipse class="d" cx="628" cy="824" rx="22" ry="7"/><text class="ex" x="628" y="825">Suitability</text></g>
<g id="tr"><rect class="t" x="661" y="816.5" width="44" height="15" rx="1"/><text class="tx" x="683" y="825">Reclassify</text></g>
<g id="or"><ellipse class="d" cx="737" cy="824" rx="22" ry="7"/><text class="ex" x="737" y="825">Final Map</text></g>
<!-- bottom group -->
<g id="b0"><rect class="t" x="104" y="1224" width="44" height="15" rx="1"/><text class="tx" x="126" y="1230.9">Extract by<tspan x="126" dy="3.4">Attributes (56)</tspan></text></g>
<g id="b1"><rect class="t" x="104" y="1246.5" width="44" height="15" rx="1"/><text class="tx" x="126" y="1253.4">Extract by<tspan x="126" dy="3.4">Attributes (57)</tspan></text></g>
<g id="b2"><rect class="t" x="104" y="1269" width="44" height="15" rx="1"/><text class="tx" x="126" y="1275.9">Extract by<tspan x="126" dy="3.4">Attributes (58)</tspan></text></g>
<g id="b3"><rect class="t" x="104" y="1291.5" width="44" height="15" rx="1"/><text class="tx" x="126" y="1298.4">Extract by<tspan x="126" dy="3.4">Attributes (59)</tspan></text></g>
<g id="b4"><rect class="t" x="104" y="1314" width="44" height="15" rx="1"/><text class="tx" x="126" y="1320.9">Extract by<tspan x="126" dy="3.4">Attributes (60)</tspan></text></g>
<g id="b5"><rect class="t" x="104" y="1336.5" width="44" height="15" rx="1"/><text class="tx" x="126" y="1343.4">Extract by<tspan x="126" dy="3.4">Attributes (61)</tspan></text></g>
<g id="b6"><rect class="t" x="104" y="1359" width="44" height="15" rx="1"/><text class="tx" x="126" y="1365.9">Extract by<tspan x="126" dy="3.4">Attributes (62)</tspan></text></g>
<g id="b7"><rect class="t" x="104" y="1381.5" width="44" height="15" rx="1"/><text class="tx" x="126" y="1388.4">Extract by<tspan x="126" dy="3.4">Attributes (63)</tspan></text></g>
<g id="f0"><ellipse class="d" cx="181" cy="1231.5" rx="22.5" ry="7"/><text class="ex" x="181" y="1232.5">Extract_56</text></g>
<g id="f1"><ellipse class="d" cx="181" cy="1254" rx="22.5" ry="7"/><text class="ex" x="181" y="1255">Extract_57</text></g>
<g id="f2"><ellipse class="d" cx="181" cy="1276.5" rx="22.5" ry="7"/><text class="ex" x="181" y="1277.5">Extract_58</text></g>
<g id="f3"><ellipse class="d" cx="181" cy="1299" rx="22.5" ry="7"/><text class="ex" x="181" y="1300">Extract_59</text></g>
<g id="f4"><ellipse class="d" cx="181" cy="1321.5" rx="22.5" ry="7"/><text class="ex" x="181" y="1322.5">Extract_60</text></g>
<g id="f5"><ellipse class="d" cx="181" cy="1344" rx="22.5" ry="7"/><text class="ex" x="181" y="1345">Extract_61</text></g>
<g id="f6"><ellipse class="d" cx="181" cy="1366.5" rx="22.5" ry="7"/><text class="ex" x="181" y="1367.5">Extract_62</text></g>
<g id="f7"><ellipse class="d" cx="181" cy="1389" rx="22.5" ry="7"/><text class="ex" x="181" y="1390">Extract_63</text></g>
<g id="tb1"><rect class="t" x="214" y="1246.5" width="44" height="15" rx="1"/><text class="tx" x="236" y="1253.4">Weighted Sum<tspan x="236" dy="3.4">(11)</tspan></text></g>
<g id="ob1"><ellipse class="d" cx="291" cy="1254" rx="22.5" ry="7"/><text class="ex" x="291" y="1255">Result_11</text></g>
<g id="tb2"><rect class="t" x="214" y="1314" width="44" height="15" rx="1"/><text class="tx" x="236" y="1320.9">Weighted Sum<tspan x="236" dy="3.4">(12)</tspan></text></g>
<g id="ob2"><ellipse class="d" cx="291" cy="1321.5" rx="22.5" ry="7"/><text class="ex" x="291" y="1322.5">Result_12</text></g>
<g id="tb3"><rect class="t" x="214" y="1359" width="44" height="15" rx="1"/><text class="tx" x="236" y="1365.9">Weighted Sum<tspan x="236" dy="3.4">(13)</tspan></text></g>
<g id="ob3"><ellipse class="d" cx="291" cy="1366.5" rx="22.5" ry="7"/><text class="ex" x="291" y="1367.5">Result_13</text></g>
<g id="tb4"><rect class="t" x="324" y="1314" width="44" height="15" rx="1"/><text class="tx" x="346" y="1320.9">Weighted Sum<tspan x="346" dy="3.4">(14)</tspan></text></g>
<g id="ob4"><ellipse class="d" cx="400" cy="1321.5" rx="22" ry="7"/><text class="ex" x="400" y="1322.5">Result_14</text></g>
<g id="rb4"><rect class="t" x="378" y="1334.5" width="44" height="15" rx="1"/><text class="tx" x="400" y="1343">Raster to Polygon (7)</text></g>
<g id="pb4"><ellipse class="d" cx="400" cy="1363" rx="22" ry="7"/><text class="ex" x="400" y="1364">Polygon_7</text></g>
</g>
</svg>
